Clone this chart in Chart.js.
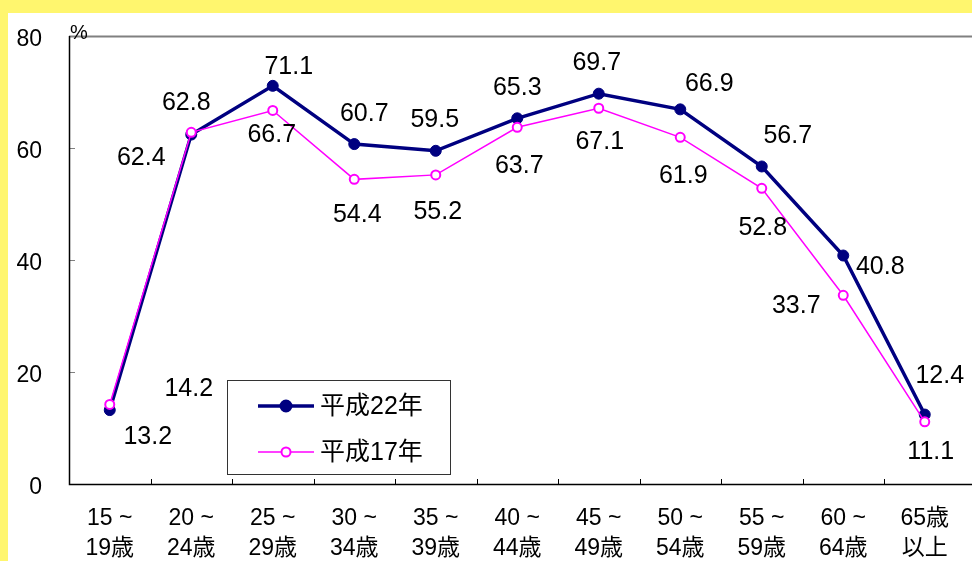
<!DOCTYPE html>
<html>
<head>
<meta charset="utf-8">
<script src="https://cdn.jsdelivr.net/npm/chart.js@4/dist/chart.umd.min.js"></script>
<style>
  html, body { margin: 0; padding: 0; background: #fff; }
  #wrap { width: 972px; height: 561px; }
</style>
</head>
<body>
<div id="wrap"><canvas id="ageChart" width="972" height="561"></canvas></div>
<script>
// age groups (x axis)
const ageGroups = [
  ["15 ~", "19歳"], ["20 ~", "24歳"], ["25 ~", "29歳"], ["30 ~", "34歳"],
  ["35 ~", "39歳"], ["40 ~", "44歳"], ["45 ~", "49歳"], ["50 ~", "54歳"],
  ["55 ~", "59歳"], ["60 ~", "64歳"], ["65歳", "以上"]
];
const seriesNames = ["平成22年", "平成17年"];
const rateH22 = [13.2, 62.4, 71.1, 60.7, 59.5, 65.3, 69.7, 66.9, 56.7, 40.8, 12.4];
const rateH17 = [14.2, 62.8, 66.7, 54.4, 55.2, 63.7, 67.1, 61.9, 52.8, 33.7, 11.1];
const yTicks = [0, 20, 40, 60, 80];

const FONT = '"Liberation Sans", Arial, "Noto Sans CJK JP", sans-serif';
const NAVY = "#000080";
const PINK = "#FF00FF";

// page background: yellow frame, white panel
const panelBg = {
  id: "panelBg",
  beforeDraw(chart) {
    const c = chart.ctx;
    c.save();
    c.fillStyle = "#FFF66E";
    c.fillRect(0, 0, chart.width, chart.height);
    c.fillStyle = "#FFFFFF";
    c.fillRect(8, 13, chart.width - 8, chart.height - 13);
    c.restore();
  }
};

// axis lines, inner ticks, y labels and the % unit
const frame = {
  id: "frame",
  beforeDatasetsDraw(chart) {
    const c = chart.ctx;
    const a = chart.chartArea;
    const x = chart.scales.x, y = chart.scales.y;
    c.save();
    // top border
    c.strokeStyle = "#808080";
    c.lineWidth = 2;
    c.beginPath();
    c.moveTo(a.left, a.top + 0.5);
    c.lineTo(chart.width, a.top + 0.5);
    c.stroke();
    // y ticks
    c.lineWidth = 1;
    yTicks.forEach(v => {
      if (v === 0 || v === 80) return;
      const py = Math.round(y.getPixelForValue(v)) + 0.5;
      c.beginPath();
      c.moveTo(a.left, py);
      c.lineTo(a.left + 6, py);
      c.stroke();
    });
    // x ticks at category boundaries
    c.strokeStyle = "#000";
    const step = (a.right - a.left) / ageGroups.length;
    for (let i = 1; i < ageGroups.length; i++) {
      const px = Math.round(x.getPixelForValue(i) - step / 2) + 0.5;
      c.beginPath();
      c.moveTo(px, a.bottom);
      c.lineTo(px, a.bottom - 5);
      c.stroke();
    }
    // left and bottom axes
    c.strokeStyle = "#000";
    c.lineWidth = 1.5;
    c.beginPath();
    c.moveTo(a.left + 0.5, a.top);
    c.lineTo(a.left + 0.5, a.bottom + 0.5);
    c.lineTo(chart.width, a.bottom + 0.5);
    c.stroke();
    // y labels
    c.fillStyle = "#000";
    c.font = "23px " + FONT;
    c.textAlign = "right";
    c.textBaseline = "middle";
    yTicks.forEach(v => {
      c.fillText(String(v), 42, y.getPixelForValue(v) + 4);
    });
    // unit
    c.font = "20px " + FONT;
    c.textAlign = "center";
    c.fillText("%", a.left + 10, a.top - 3);
    c.restore();
  }
};

// value labels next to each point
const valueLabels = {
  id: "valueLabels",
  afterDatasetsDraw(chart, args, opts) {
    const c = chart.ctx;
    c.save();
    c.fillStyle = "#000";
    c.font = "25px " + FONT;
    c.textAlign = "center";
    c.textBaseline = "middle";
    chart.data.datasets.forEach((ds, di) => {
      const meta = chart.getDatasetMeta(di);
      const offs = opts.offsets[di];
      meta.data.forEach((pt, i) => {
        c.fillText(ds.data[i].toFixed(1), pt.x + offs[i][0], pt.y + offs[i][1]);
      });
    });
    c.restore();
  }
};

// boxed legend inside the plot
const boxLegend = {
  id: "boxLegend",
  afterDraw(chart) {
    const c = chart.ctx;
    c.save();
    c.fillStyle = "#fff";
    c.fillRect(227.5, 380.5, 223, 94);
    c.strokeStyle = "#333";
    c.lineWidth = 1;
    c.strokeRect(227.5, 380.5, 223, 94);
    const rows = [
      { y: 406, color: NAVY, width: 3.5, r: 5.5, fill: NAVY, name: seriesNames[0] },
      { y: 452, color: PINK, width: 1.5, r: 4.5, fill: "#fff", name: seriesNames[1] }
    ];
    rows.forEach(r => {
      c.strokeStyle = r.color;
      c.lineWidth = r.width;
      c.beginPath();
      c.moveTo(258, r.y);
      c.lineTo(314, r.y);
      c.stroke();
      c.beginPath();
      c.arc(286, r.y, r.r, 0, Math.PI * 2);
      c.fillStyle = r.fill;
      c.fill();
      c.lineWidth = 2;
      c.stroke();
      c.fillStyle = "#000";
      c.font = "25px " + FONT;
      c.textAlign = "left";
      c.textBaseline = "middle";
      c.fillText(r.name, 320, r.y + 1);
    });
    c.restore();
  }
};

new Chart(document.getElementById("ageChart"), {
  type: "line",
  data: {
    labels: ageGroups,
    datasets: [
      {
        label: seriesNames[0],
        data: rateH22,
        borderColor: NAVY,
        backgroundColor: NAVY,
        borderWidth: 3.5,
        pointRadius: 5.5,
        pointBackgroundColor: NAVY,
        pointBorderColor: NAVY,
        pointBorderWidth: 1,
        tension: 0,
        order: 1
      },
      {
        label: seriesNames[1],
        data: rateH17,
        borderColor: PINK,
        backgroundColor: "#fff",
        borderWidth: 1.5,
        pointRadius: 4.5,
        pointBackgroundColor: "#fff",
        pointBorderColor: PINK,
        pointBorderWidth: 2,
        tension: 0,
        order: 0
      }
    ]
  },
  options: {
    responsive: false,
    animation: false,
    devicePixelRatio: 1,
    layout: { padding: { top: 36, right: 1, left: 0, bottom: 0 } },
    plugins: {
      legend: { display: false },
      tooltip: { enabled: false },
      valueLabels: {
        offsets: [
          [[38, 27], [-50, 24], [16, -19], [10, -30], [-1, -31], [0, -30], [-2, -31], [29, -25], [26, -30], [37, 12], [15, -38]],
          [[79, -15], [-5, -29], [-1, 25], [3, 36], [2, 37], [2, 39], [1, 34], [3, 39], [1, 40], [-47, 11], [6, 30]]
        ]
      }
    },
    scales: {
      x: {
        type: "category",
        offset: true,
        grid: { display: false, drawTicks: false },
        border: { display: false },
        ticks: {
          color: "#000",
          font: { family: FONT, size: 23, lineHeight: 1.3 },
          padding: 20,
          maxRotation: 0,
          autoSkip: false
        },
        afterFit(scale) { scale.height = 77; }
      },
      y: {
        min: 0,
        max: 80,
        grid: { display: false, drawTicks: false },
        border: { display: false },
        ticks: { display: false, stepSize: 20 },
        afterFit(scale) { scale.width = 69; }
      }
    }
  },
  plugins: [panelBg, frame, valueLabels, boxLegend]
});
</script>
</body>
</html>
